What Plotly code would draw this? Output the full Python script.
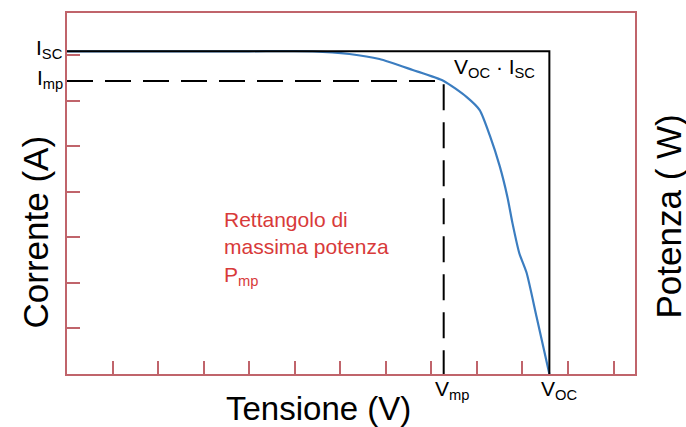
import plotly.graph_objects as go

# ---- data (axis units = tick spacing) ----
v_curve = [0.0, 2.0, 4.0, 5.4, 6.2, 6.86, 7.59, 8.27, 8.77, 9.06, 9.28, 9.50, 9.67, 9.78, 9.93, 10.09, 10.31, 10.59]
i_curve = [7.08, 7.08, 7.08, 7.08, 7.02, 6.91, 6.67, 6.43, 6.08, 5.79, 5.24, 4.56, 3.88, 3.31, 2.65, 2.22, 1.25, 0.0]
I_SC = 7.08
I_MP = 6.43
V_MP = 8.27
V_OC = 10.59
x_ticks = list(range(1, 13))
y_ticks = list(range(1, 8))
x_max = 12.47
y_max = 7.92

FRAME = "#c0646b"
BLUE = "#3b7dc0"
RED = "#d83a3a"
FONT = "Liberation Sans, Arial, sans-serif"

fig = go.Figure()
# I-V curve
fig.add_trace(go.Scatter(x=v_curve, y=i_curve, mode="lines",
                         line=dict(color=BLUE, width=2.2, shape="spline", smoothing=0.6), hoverinfo="skip"))
# max power rectangle (dashed)
fig.add_trace(go.Scatter(x=[0, V_MP, V_MP], y=[I_MP, I_MP, 0], mode="lines",
                         line=dict(color="black", width=2, dash="26px,12px"), hoverinfo="skip"))
# Voc*Isc rectangle
fig.add_trace(go.Scatter(x=[0, V_OC, V_OC], y=[I_SC, I_SC, 0], mode="lines",
                         line=dict(color="black", width=2), hoverinfo="skip"))

axis_common = dict(showgrid=False, zeroline=False, showline=True, mirror=True,
                   linecolor=FRAME, linewidth=2, ticks="inside", ticklen=13,
                   tickwidth=2, tickcolor=FRAME, showticklabels=False)
fig.update_xaxes(range=[0, x_max], tickvals=x_ticks, **axis_common)
fig.update_yaxes(range=[0, y_max], tickvals=y_ticks, **axis_common)

ann = []
def A(**kw):
    base = dict(showarrow=False, borderpad=0, borderwidth=0,
                font=dict(family=FONT, color="black", size=21))
    base.update(kw)
    ann.append(base)

A(text="I<sub>SC</sub>", x=0, y=I_SC, xref="x", yref="y", xanchor="right", yanchor="middle", xshift=-4, yshift=2)
A(text="I<sub>mp</sub>", x=0, y=I_MP, xref="x", yref="y", xanchor="right", yanchor="middle", xshift=-4, yshift=2)
A(text="V<sub>mp</sub>", x=V_MP, y=0, xref="x", yref="y", xanchor="center", yanchor="top", xshift=8, yshift=-3, font=dict(family=FONT, size=21, color="black"))
A(text="V<sub>OC</sub>", x=V_OC, y=0, xref="x", yref="y", xanchor="center", yanchor="top", xshift=10, yshift=-3, font=dict(family=FONT, size=21, color="black"))
A(text="V<sub>OC</sub> · I<sub>SC</sub>", x=V_OC, y=I_SC, xref="x", yref="y", xanchor="right", yanchor="top", xshift=-14, yshift=-4, font=dict(family=FONT, size=21, color="black"))
A(text="Rettangolo di<br>massima potenza<br>P<sub>mp</sub>", x=3.43, y=2.76, xref="x", yref="y", xanchor="left", yanchor="middle", align="left", xshift=1, font=dict(family=FONT, size=21, color=RED))
A(text="Tensione (V)", x=0.0, y=0, xref="x", yref="paper", xanchor="center", yanchor="bottom", xshift=251, yshift=-53, font=dict(family=FONT, size=33, color="black"))
A(text="Corrente (A)", x=0, y=0.5, xref="paper", yref="paper", xanchor="center", yanchor="middle", xshift=-32, yshift=-39, textangle=-90, font=dict(family=FONT, size=35, color="black"))
A(text="Potenza ( W)", x=1, y=0.5, xref="paper", yref="paper", xanchor="center", yanchor="middle", xshift=33, yshift=-23, textangle=-90, font=dict(family=FONT, size=35, color="black"))

fig.update_layout(width=686, height=427, margin=dict(l=67, r=51, t=13, b=53),
                  paper_bgcolor="white", plot_bgcolor="white", showlegend=False,
                  annotations=ann)

fig.write_html("out.html")
